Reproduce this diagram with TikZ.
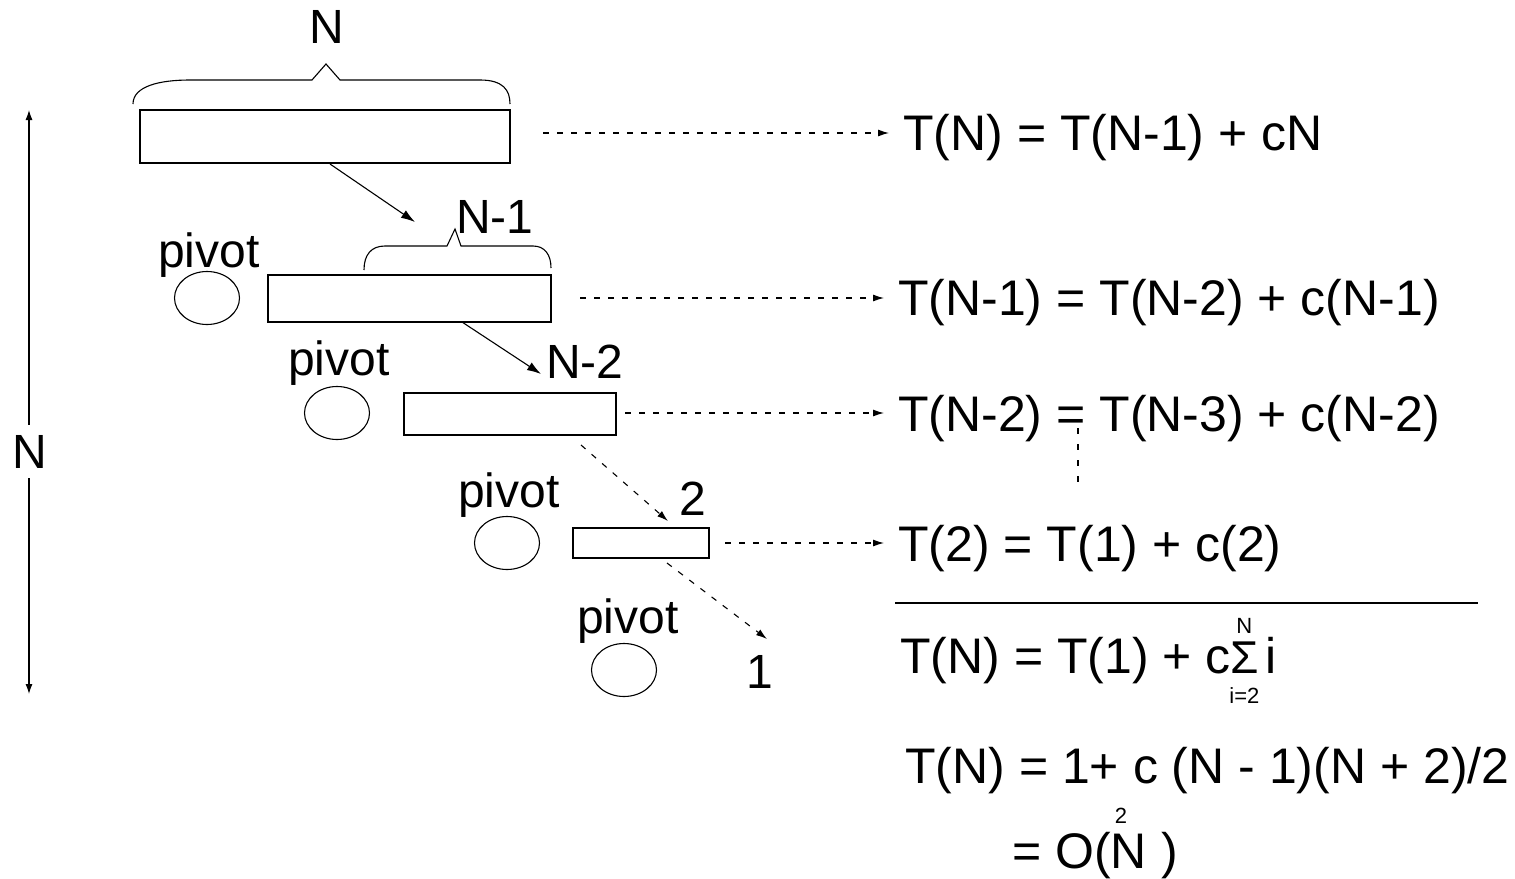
\documentclass[tikz,border=0pt]{standalone}
\usepackage{fontspec}
\setmainfont{Liberation Sans}
\usetikzlibrary{arrows.meta,shapes.geometric}
\newcommand\eqf{\fontsize{50}{60}\selectfont}
\newcommand\labf{\fontsize{48}{58}\selectfont}
\newcommand\tinyf{\fontsize{22}{26}\selectfont}
\tikzset{
  blk/.style={draw, line width=1.1pt, inner sep=0pt},
  piv/.style={draw, ellipse, line width=1.1pt, minimum width=65pt, minimum height=53pt, inner sep=0pt},
  lab/.style={font=\labf, inner sep=0pt, anchor=base},
  eq/.style={font=\eqf, inner sep=0pt, anchor=base west},
  solidarr/.style={line width=1.1pt, -{Latex[length=14pt,width=9pt]}},
  dasharr/.style={line width=1.1pt, dash pattern=on 6pt off 8pt, -{Latex[length=11pt,width=7pt]}},
  brace/.style={line width=1.1pt}
}
\begin{document}
\begin{tikzpicture}[x=1pt,y=-1pt]
\useasboundingbox (0,0) rectangle (1515,878);
% boxes
\node[blk, minimum width=370pt, minimum height=53pt] (b1) at (325,136.5) {};
\node[blk, minimum width=283pt, minimum height=47pt] (b2) at (409.5,298.5) {};
\node[blk, minimum width=212pt, minimum height=42pt] (b3) at (510,414) {};
\node[blk, minimum width=136pt, minimum height=30pt] (b4) at (641,543) {};
% ellipses
\node[piv] (e1) at (207,298) {};
\node[piv] (e2) at (337,413) {};
\node[piv] (e3) at (507,543) {};
\node[piv] (e4) at (624,670) {};
% labels
\node[lab] (lN) at (327,43) {N};
\node[lab] (lN1) at (495,233) {N-1};
\node[lab] (lN2) at (585,378) {N-2};
\node[lab] (l2) at (693,515) {2};
\node[lab] (l1) at (760,688) {1};
\node[lab] (p1) at (209,267) {pivot};
\node[lab] (p2) at (339,375) {pivot};
\node[lab] (p3) at (509,507) {pivot};
\node[lab] (p4) at (628,633) {pivot};
% braces
\draw[brace] (133,104) .. controls (133,86) and (160,80) .. (190,80) -- (312,80) -- (326,64) -- (340,80) -- (480,80) .. controls (503,80) and (510,90) .. (510,104);
\draw[brace] (364,270) .. controls (364,255) and (371,246) .. (385,246) -- (447,246) -- (455,229) -- (461,246) -- (533,246) .. controls (545,246) and (551,255) .. (551,268);
% solid arrows
\coordinate (s1) at (330,164);
\coordinate (t1) at (415,222);
\draw[solidarr] (s1) -- (t1);
\coordinate (s2) at (462,322);
\coordinate (t2) at (541,374);
\draw[solidarr] (s2) -- (t2);
% dashed diagonal arrows
\coordinate (s3) at (581,445);
\coordinate (t3) at (668,521);
\draw[dasharr] (s3) -- (t3);
\coordinate (s4) at (667,563);
\coordinate (t4) at (767,639);
\draw[dasharr] (s4) -- (t4);
% equations
\node[eq] (q1) at (903,150) {T(N) = T(N-1) + cN};
\node[eq] (q2) at (898,315) {T(N-1) = T(N-2) + c(N-1)};
\node[eq] (q3) at (898,431) {T(N-2) = T(N-3) + c(N-2)};
\node[eq] (q4) at (898,561) {T(2) = T(1) + c(2)};
% dashed horizontal arrows
\coordinate (h1) at (543,133);
\coordinate (h2) at (580,298);
\coordinate (h3) at (625,413);
\coordinate (h4) at (725,543);
\draw[dasharr] (h1) -- ([xshift=-14pt]q1.west |- h1);
\draw[dasharr] (h2) -- ([xshift=-14pt]q2.west |- h2);
\draw[dasharr] (h3) -- ([xshift=-14pt]q3.west |- h3);
\draw[dasharr] (h4) -- ([xshift=-14pt]q4.west |- h4);
% vertical dots
\coordinate (v1) at (1078,428);
\coordinate (v2) at (1078,490);
\draw[line width=1.1pt, dash pattern=on 6pt off 10pt] (v1) -- (v2);
% rule
\coordinate (r1) at (895,603);
\coordinate (r2) at (1478,603);
\draw[line width=1.1pt] (r1) -- (r2);
% sum line
\node[eq] (q5) at (900,673) {T(N) = T(1) + c};
\node[font=\fontsize{46}{50}\selectfont, inner sep=0pt, anchor=base west] (sig) at ([xshift=-1pt]q5.base east) {Σ};
\node[font=\tinyf, inner sep=0pt, anchor=base] (sN) at ([yshift=8pt]sig.north) {N};
\node[font=\tinyf, inner sep=0pt, anchor=north] (si) at ([yshift=-14pt]sig.south) {i=2};
\node[eq] (q5i) at ([xshift=6pt]sig.base east) {i};
% final lines
\node[eq] (q6) at (905,783) {T(N) = 1+ c (N - 1)(N + 2)/2};
\node[eq] (q7) at (1012,868) {= O(N};
\node[eq] (q7b) at ([xshift=14pt]q7.base east) {)};
\node[font=\tinyf, inner sep=0pt, anchor=base] (sq) at (1121,823) {2};
% left dimension arrow
\node[font=\labf, inner sep=0pt, anchor=base] (dN) at (30,468) {N};
\coordinate (dt) at (29,110);
\coordinate (db) at (29,694);
\draw[line width=1.1pt, -{Latex[length=10pt,width=7pt]}] ([yshift=10pt]dN.north -| dt) -- (dt);
\draw[line width=1.1pt, -{Latex[length=10pt,width=7pt]}] ([yshift=-10pt]dN.south -| db) -- (db);
\end{tikzpicture}
\end{document}
